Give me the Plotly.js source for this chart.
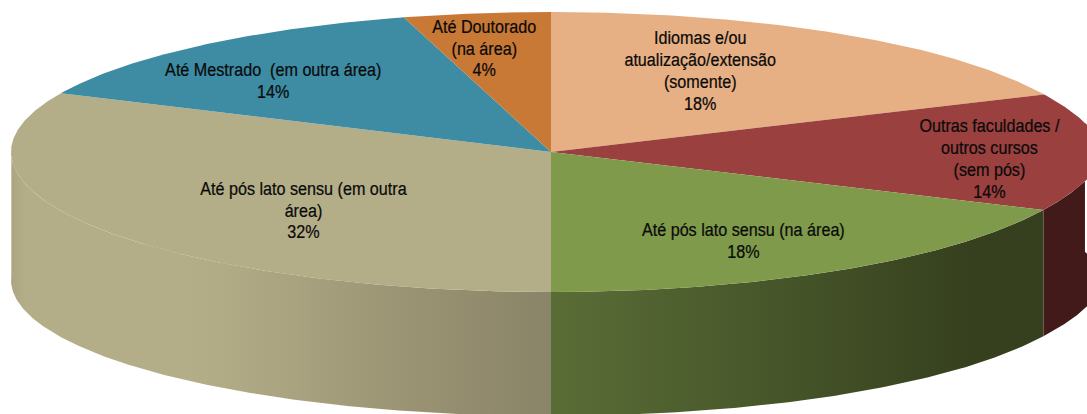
<!DOCTYPE html>
<html>
<head>
<meta charset="utf-8">
<script src="https://cdn.plot.ly/plotly-3.0.1.min.js"></script>
<style>html,body{margin:0;padding:0;background:#fff;overflow:hidden}</style>
</head>
<body>
<div id="chart" style="width:1087px;height:414px"></div>
<script>
const categories = ["Idiomas e/ou<br>atualização/extensão<br>(somente)", "Outras faculdades /<br>outros cursos<br>(sem pós)", "Até pós lato sensu (na área)", "Até pós lato sensu (em outra<br>área)", "Até Mestrado  (em outra área)", "Até Doutorado<br>(na área)"];
const percentLabels = [18, 14, 18, 32, 14, 4];
const shares = [18.25, 13.55, 18.2, 31.9, 13.7, 4.4];
const topColors = ["#E6B084", "#9A403E", "#7F9A4A", "#B4AE88", "#3D8CA4", "#C97936"];
const labelX = [700, 989, 743, 303, 273, 484];
const labelY = [70.5, 158, 240.5, 210, 80.5, 48];

const cx = 551, cy = 152, rx = 540, ry = 140, depth = 128, bottomRy = 136;
const fontSize = 19, lineGap = 21.7, squeeze = 0.85;
const total = shares.reduce((a, b) => a + b, 0);

function pt(deg, dy, radY) {
  const r = deg * Math.PI / 180, s = Math.sin(r);
  const radX = rx + (s > 0 ? 10 * Math.pow(s, 24) : 0);
  return [cx + radX * s, cy - radY * Math.cos(r) + dy];
}
function arc(a0, a1, dy, radY) {
  const out = [], n = Math.max(2, Math.ceil(Math.abs(a1 - a0) * 2));
  for (let i = 0; i <= n; i++) out.push(pt(a0 + (a1 - a0) * i / n, dy, radY));
  return out;
}
function poly(points, extra) {
  return Object.assign({
    type: "scatter", mode: "lines", x: points.map(p => p[0]), y: points.map(p => p[1]),
    fill: "toself", line: {width: 0}, hoverinfo: "skip", showlegend: false
  }, extra);
}

let start = 0;
const angles = shares.map(v => { const a = [start, start + v / total * 360]; start = a[1]; return a; });

function wall(a0, a1, extra) {
  return poly(arc(a0, a1, 0, ry).concat(arc(a1, a0, depth, bottomRy)), extra);
}
const traces = [
  wall(78, angles[1][1], {fillcolor: "#431A1A"}),
  wall(angles[2][0], angles[2][1], {fillgradient: {type: "horizontal", start: 551, stop: 1043,
    colorscale: [[0, "#5A6D36"], [0.45, "#47562A"], [0.85, "#36401E"], [1, "#36401E"]]}}),
  wall(angles[3][0], 272, {fillgradient: {type: "horizontal", start: 11, stop: 551,
    colorscale: [[0, "#ABA582"], [0.03, "#B4AE88"], [0.33, "#B4AE88"], [0.5, "#AAA481"], [0.8, "#968F70"], [1, "#8A8468"]]}})
];
shares.forEach((v, i) => {
  traces.push(poly([[cx, cy]].concat(arc(angles[i][0], angles[i][1], 0, ry)), {fillcolor: topColors[i]}));
});

const annotations = categories.map((c, i) => ({
  x: labelX[i], y: labelY[i], xref: "x", yref: "y", showarrow: false,
  text: c + "<br>" + percentLabels[i] + "%", align: "center", xanchor: "center", yanchor: "middle",
  font: {family: "'Liberation Sans',Arial,sans-serif", size: fontSize, color: "#0a0a0a"}
}));

Plotly.newPlot("chart", traces, {
  width: 1087, height: 414, margin: {l: 0, r: 0, t: 0, b: 0},
  paper_bgcolor: "#fff", plot_bgcolor: "#fff", showlegend: false, annotations,
  xaxis: {range: [0, 1087], visible: false, fixedrange: true},
  yaxis: {range: [414, 0], visible: false, fixedrange: true}
}, {displayModeBar: false, staticPlot: true}).then(gd => {
  // the reference's labels are a condensed face with tight leading
  gd.querySelectorAll("text.annotation-text").forEach(t => {
    const lines = t.querySelectorAll("tspan.line");
    lines.forEach((l, i) => l.setAttribute("dy", (i * lineGap) + "px"));
    const shift = (lines.length - 1) * (1.3 * fontSize - lineGap) / 2;
    const b = t.getBBox(), mid = b.x + b.width / 2;
    t.setAttribute("transform", `translate(${mid},${shift}) scale(${squeeze},1) translate(${-mid},0)`);
    t.style.stroke = "#0a0a0a";
    t.style.strokeWidth = "0.25px";
  });
});
</script>
</body>
</html>
